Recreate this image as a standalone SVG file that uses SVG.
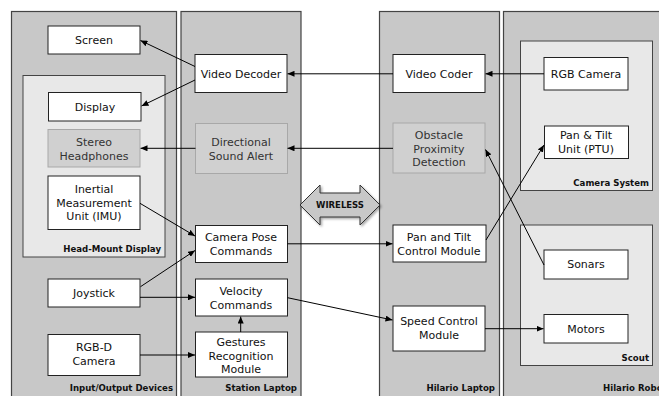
<svg xmlns="http://www.w3.org/2000/svg" width="659" height="396" viewBox="0 0 659 396">
<defs>
<marker id="ah" markerWidth="7" markerHeight="6" refX="7" refY="3" orient="auto" markerUnits="userSpaceOnUse">
<path d="M0,0 L7,3 L0,6 Z" fill="#000"/>
</marker>
<filter id="sh" x="-10%" y="-10%" width="130%" height="130%">
<feDropShadow dx="1.5" dy="1.5" stdDeviation="1" flood-color="#000" flood-opacity="0.35"/>
</filter>
</defs>
<style>
.panel{fill:#c8c8c8;stroke:#444;stroke-width:1.2}
.sub{fill:#e8e8e8;stroke:#444;stroke-width:1}
.node{fill:#fff;stroke:#222;stroke-width:1}
.gnode{fill:#d0d0d0;stroke:#a8a8a8;stroke-width:1}
.t{font-family:"DejaVu Sans",Verdana,sans-serif;font-size:11px;fill:#111;text-anchor:middle}
.gt{fill:#333}
.lbl{font-family:"DejaVu Sans",Verdana,sans-serif;font-size:8.6px;font-weight:bold;fill:#111;text-anchor:end}
.e{stroke:#000;stroke-width:1;fill:none;marker-end:url(#ah)}
</style>
<rect width="659" height="396" fill="#fff"/>
<g id="panels">
<rect class="panel" x="11.5" y="11.5" width="165" height="390"/>
<rect class="panel" x="181" y="11.5" width="120" height="390"/>
<rect class="panel" x="379.5" y="11.5" width="120" height="390"/>
<rect class="panel" x="503.5" y="11.5" width="165" height="390"/>
<rect class="sub" x="23" y="75.5" width="142" height="181.5"/>
<rect class="sub" x="520.5" y="41" width="132" height="149.5"/>
<rect class="sub" x="520.5" y="225" width="132" height="140.5"/>
<text class="lbl" x="161" y="252">Head-Mount Display</text>
<text class="lbl" x="649" y="186">Camera System</text>
<text class="lbl" x="649" y="361">Scout</text>
<text class="lbl" x="173" y="391">Input/Output Devices</text>
<text class="lbl" x="297" y="391">Station Laptop</text>
<text class="lbl" x="495" y="391">Hilario Laptop</text>
<text class="lbl" x="603" y="391" style="text-anchor:start">Hilario Robot</text>
</g>
<g id="wireless">
<path d="M300,205 L320,185 L320,193 L360,193 L360,185 L380,205 L360,225 L360,217 L320,217 L320,225 Z" fill="#c8c8c8" stroke="#333" stroke-width="1" filter="url(#sh)"/>
<text x="340" y="208" font-family="DejaVu Sans,Verdana,sans-serif" font-size="8.5" font-weight="bold" text-anchor="middle" fill="#111">WIRELESS</text>
</g>
<g id="screen"><rect class="node" x="48" y="26" width="92" height="28"/><text class="t" x="94" y="44">Screen</text></g>
<g id="display"><rect class="node" x="48.5" y="92.5" width="92.5" height="28.5"/><text class="t" x="95" y="111">Display</text></g>
<g id="headphones"><rect class="gnode" x="48" y="129.5" width="92" height="37.5"/><text class="t gt" x="94" y="146">Stereo</text><text class="t gt" x="94" y="160">Headphones</text></g>
<g id="imu"><rect class="node" x="48" y="176" width="92" height="53.5"/><text class="t" x="94" y="193">Inertial</text><text class="t" x="94" y="206.5">Measurement</text><text class="t" x="94" y="220">Unit (IMU)</text></g>
<g id="joystick"><rect class="node" x="48" y="279" width="92" height="28"/><text class="t" x="94" y="297">Joystick</text></g>
<g id="rgbd"><rect class="node" x="48" y="334.5" width="92" height="41"/><text class="t" x="94" y="351">RGB-D</text><text class="t" x="94" y="365">Camera</text></g>
<g id="videodecoder"><rect class="node" x="195" y="54.5" width="92" height="38"/><text class="t" x="241" y="78">Video Decoder</text></g>
<g id="soundalert"><rect class="gnode" x="195.5" y="123.5" width="92" height="50"/><text class="t gt" x="241" y="146">Directional</text><text class="t gt" x="241" y="160">Sound Alert</text></g>
<g id="camerapose"><rect class="node" x="195.5" y="225.5" width="92" height="37"/><text class="t" x="241" y="241">Camera Pose</text><text class="t" x="241" y="255">Commands</text></g>
<g id="velocity"><rect class="node" x="195.5" y="279" width="92" height="37"/><text class="t" x="241" y="295">Velocity</text><text class="t" x="241" y="309">Commands</text></g>
<g id="gestures"><rect class="node" x="195.5" y="332" width="92" height="45"/><text class="t" x="241" y="346">Gestures</text><text class="t" x="241" y="359.5">Recognition</text><text class="t" x="241" y="373">Module</text></g>
<g id="videocoder"><rect class="node" x="393" y="54.5" width="92" height="38"/><text class="t" x="439" y="78">Video Coder</text></g>
<g id="obstacle"><rect class="gnode" x="393" y="123" width="92" height="50"/><text class="t gt" x="439" y="139">Obstacle</text><text class="t gt" x="439" y="152.5">Proximity</text><text class="t gt" x="439" y="166">Detection</text></g>
<g id="ptcontrol"><rect class="node" x="393" y="225" width="93" height="37"/><text class="t" x="439" y="241">Pan and Tilt</text><text class="t" x="439" y="255">Control Module</text></g>
<g id="speedcontrol"><rect class="node" x="393" y="306" width="92" height="45"/><text class="t" x="439" y="325">Speed Control</text><text class="t" x="439" y="339">Module</text></g>
<g id="rgbcamera"><rect class="node" x="544" y="57.5" width="84" height="32.5"/><text class="t" x="586" y="78">RGB Camera</text></g>
<g id="ptu"><rect class="node" x="544.5" y="126" width="84" height="32.5"/><text class="t" x="586" y="139">Pan &amp; Tilt</text><text class="t" x="586" y="152.5">Unit (PTU)</text></g>
<g id="sonars"><rect class="node" x="544" y="250" width="84" height="29"/><text class="t" x="586" y="268">Sonars</text></g>
<g id="motors"><rect class="node" x="544" y="314.5" width="84" height="28.5"/><text class="t" x="586" y="333">Motors</text></g>
<g id="connectors">
<line class="e" x1="195" y1="66.5" x2="140.5" y2="40.5"/>
<line class="e" x1="195" y1="80" x2="141.5" y2="106"/>
<line class="e" x1="195.5" y1="148.3" x2="140.5" y2="148.3"/>
<line class="e" x1="393" y1="73.8" x2="287.5" y2="73.8"/>
<line class="e" x1="393" y1="148.3" x2="287.5" y2="148.3"/>
<line class="e" x1="544" y1="73.8" x2="485.5" y2="73.8"/>
<line class="e" x1="544" y1="265" x2="485.5" y2="149.5"/>
<line class="e" x1="486" y1="240" x2="544" y2="145"/>
<line class="e" x1="140" y1="203.3" x2="195" y2="236"/>
<line class="e" x1="140.5" y1="286.7" x2="195" y2="250.5"/>
<line class="e" x1="140" y1="297.3" x2="195" y2="297.3"/>
<line class="e" x1="140" y1="355" x2="195" y2="355"/>
<line class="e" x1="240.7" y1="332" x2="240.7" y2="316.5"/>
<line class="e" x1="287.5" y1="243.8" x2="392.5" y2="243.8"/>
<line class="e" x1="287.5" y1="297.7" x2="392.5" y2="320"/>
<line class="e" x1="485" y1="328.7" x2="543.5" y2="328.7"/>
</g>
</svg>
